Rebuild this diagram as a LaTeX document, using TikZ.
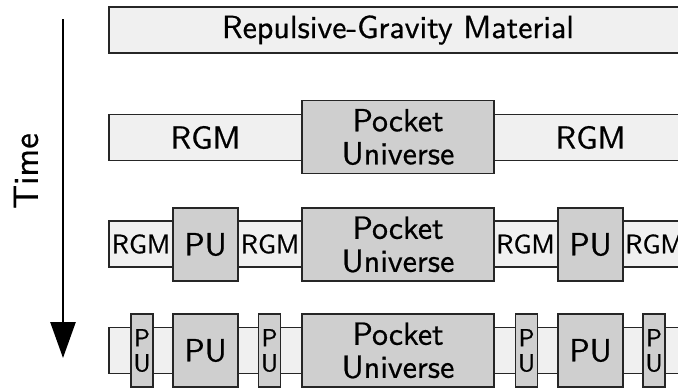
\documentclass[tikz,border=0pt]{standalone}
\usepackage{fontspec}
\usepackage{tikz}
\usetikzlibrary{arrows.meta}

\newfontfamily\rgmsans{lmsans10-regular.otf}[FakeBold=0.6]

\tikzset{
  bar/.style={draw=black!85, line width=0.75pt, fill=black!6, inner sep=0pt},
  pocket/.style={draw=black!85, line width=0.75pt, fill=black!19, inner sep=0pt, align=center},
  big/.style={font=\rgmsans\fontsize{16}{16.5}\selectfont},
  small/.style={font=\rgmsans\fontsize{13.4}{13}\selectfont},
  tiny/.style={font=\rgmsans\fontsize{12.4}{12.5}\selectfont},
}

\begin{document}
\begin{tikzpicture}[x=0.5pt, y=-0.5pt]

	% ---- parameters

	\def\xc{398}
	\def\barw{289pt}
	\def\barh{23pt}
	\def\boxh{36.5pt}

	\useasboundingbox (0,0) rectangle (678,388);

	% ---- time arrow

	\coordinate (T0) at (63,19);
	\coordinate (T1) at (63,358);
	\draw[line width=1.3pt, -{Triangle[width=12.5pt,length=18pt]}] (T0) -- (T1);
	\node[rotate=90, font=\rgmsans\fontsize{17.5}{20}\selectfont] (time) at (26,171) {Time};

	% ---- first row

	\node[bar, big, minimum width=\barw, minimum height=\barh] (rgm1) at (\xc,30) {Repulsive-Gravity Material};

	% ---- second row

	\node[bar, minimum width=\barw, minimum height=\barh] (rgm2) at (\xc,137.5) {};
	\node[pocket, big, minimum width=96pt, minimum height=\boxh] (pocket2) at (\xc,137) {Pocket\\Universe};
	\node[big] (rgm2a) at (205.5,137.5) {RGM};
	\node[big] (rgm2b) at (590.5,137.5) {RGM};

	% ---- third row

	\node[bar, minimum width=\barw, minimum height=\barh] (rgm3) at (\xc,244) {};
	\node[pocket, big, minimum width=96pt, minimum height=\boxh] (pocket3) at (\xc,244.5) {Pocket\\Universe};
	\foreach \x/\n in {205.5/a, 590.5/b}
		{ \node[pocket, big, minimum width=32.5pt, minimum height=\boxh] (pu3\n) at (\x,244.5) {PU}; }
	\foreach \x/\n in {141/a, 270/b, 525.5/c, 654.5/d}
		{ \node[small] (rgm3\n) at (\x,244) {RGM}; }

	% ---- fourth row

	\node[bar, minimum width=\barw, minimum height=\barh] (rgm4) at (\xc,350.5) {};
	\node[pocket, big, minimum width=96pt, minimum height=\boxh] (pocket4) at (\xc,350.5) {Pocket\\Universe};
	\foreach \x/\n in {205.5/a, 590.5/b}
		{ \node[pocket, big, minimum width=32.5pt, minimum height=\boxh] (pu4\n) at (\x,350.5) {PU}; }
	\foreach \x/\n in {142/a, 269.5/b, 526.5/c, 654/d}
		{ \node[pocket, tiny, minimum width=11pt, minimum height=\boxh] (tiny4\n) at (\x,350.5) {P\\U}; }

\end{tikzpicture}
\end{document}
